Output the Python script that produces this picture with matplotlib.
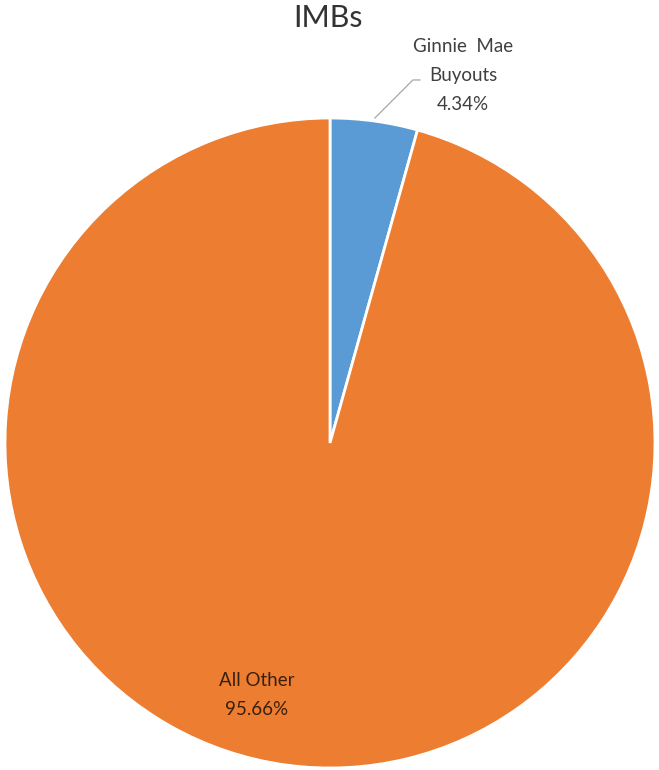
import matplotlib
matplotlib.use("Agg")
import matplotlib.pyplot as plt

plt.rcParams["font.family"] = ["Lato", "DejaVu Sans"]

# IMB composition
categories = ["Ginnie Mae\nBuyouts", "All Other"]
shares = [4.34, 95.66]
colors = ["#5B9BD5", "#ED7D31"]

fig = plt.figure(figsize=(6.59, 7.70), dpi=100)
ax = fig.add_axes([5 / 659, 2 / 770, 650 / 659, 650 / 770])

wedges, _ = ax.pie(
    shares,
    colors=colors,
    startangle=90,
    counterclock=False,
    radius=1.0,
    wedgeprops=dict(edgecolor="white", linewidth=2),
)
ax.set_xlim(-1, 1)
ax.set_ylim(-1, 1)
ax.set_aspect("equal")
ax.axis("off")

# data labels
ax.text(0.409, 1.132, f"{categories[0].replace(' ', '  ')}\n{shares[0]:.2f}%",
        ha="center", va="center", fontsize=13.5, color="#404040", linespacing=1.85)
ax.text(-0.225, -0.775, f"{categories[1]}\n{shares[1]:.2f}%",
        ha="center", va="center", fontsize=13.5, color="#3a2010", linespacing=1.85)

# leader line for the small slice
ax.plot([0.138, 0.255, 0.277], [1.0, 1.117, 1.117], color="#A6A6A6",
        linewidth=0.9, clip_on=False)

fig.text(328 / 659, 1 - 18 / 770, "IMBs", ha="center", va="center",
         fontsize=22, color="#333333")

fig.savefig("out.png", dpi=100, facecolor="white")
